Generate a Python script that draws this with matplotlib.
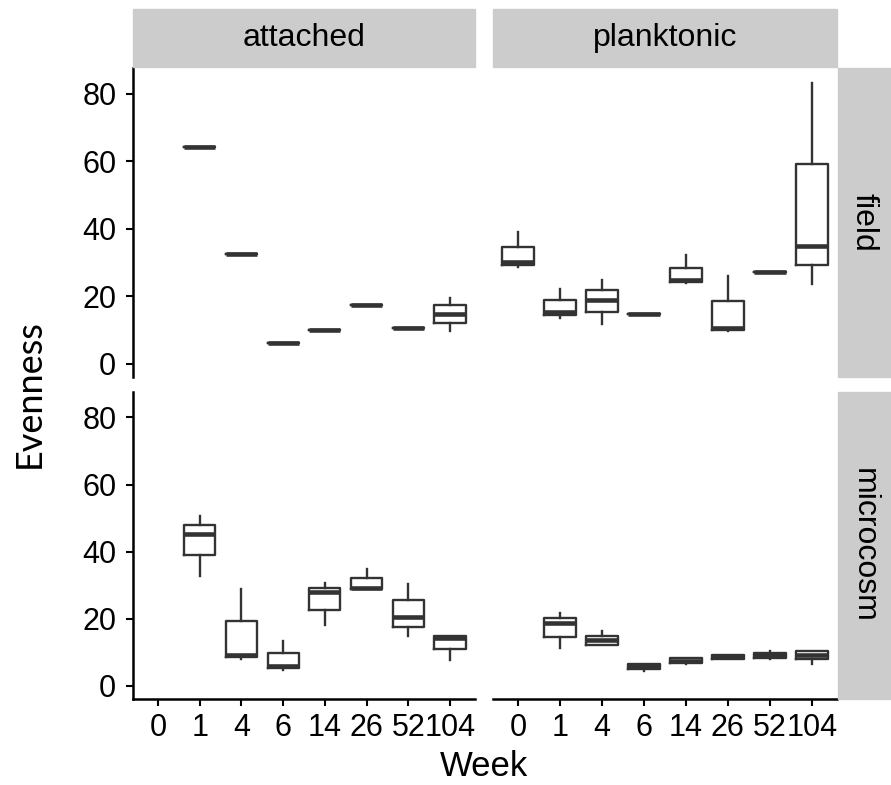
import matplotlib
matplotlib.use("Agg")
import matplotlib.pyplot as plt
from matplotlib.patches import Rectangle

W, H = 891, 785

weeks = ["0", "1", "4", "6", "14", "26", "52", "104"]
habitats = ["attached", "planktonic"]
systems = ["field", "microcosm"]

# (whisker low, q1, median, q3, whisker high) per week, None = no data
field_attached = [None,
                  (64.3, 64.3, 64.3, 64.3, 64.3),
                  (32.6, 32.6, 32.6, 32.6, 32.6),
                  (6.2, 6.2, 6.2, 6.2, 6.2),
                  (10.0, 10.0, 10.0, 10.0, 10.0),
                  (17.3, 17.3, 17.3, 17.3, 17.3),
                  (10.6, 10.6, 10.6, 10.6, 10.6),
                  (9.7, 12.1, 14.8, 17.3, 19.6)]
field_planktonic = [(28.7, 29.2, 30.2, 34.5, 39.0),
                    (13.6, 14.4, 15.2, 18.8, 22.2),
                    (11.7, 15.3, 19.0, 22.0, 24.8),
                    (14.8, 14.8, 14.8, 14.8, 14.8),
                    (24.0, 24.2, 24.7, 28.4, 32.2),
                    (9.7, 10.1, 10.6, 18.6, 26.1),
                    (27.1, 27.1, 27.1, 27.1, 27.1),
                    (23.6, 29.3, 34.9, 59.1, 83.3)]
micro_attached = [None,
                  (32.9, 38.9, 45.3, 47.9, 50.6),
                  (8.0, 8.5, 9.2, 19.2, 28.9),
                  (4.7, 5.2, 5.8, 9.8, 13.3),
                  (18.1, 22.5, 27.9, 29.1, 30.7),
                  (28.9, 28.9, 29.3, 32.1, 34.8),
                  (14.8, 17.5, 20.6, 25.6, 30.5),
                  (7.7, 11.0, 14.4, 14.8, 14.9)]
micro_planktonic = [None,
                    (11.2, 14.6, 18.7, 20.2, 21.6),
                    (12.2, 12.2, 13.6, 14.9, 16.4),
                    (4.4, 5.0, 5.8, 6.4, 6.4),
                    (6.4, 6.9, 7.5, 8.4, 8.4),
                    (8.0, 8.0, 8.7, 9.2, 9.2),
                    (8.0, 8.4, 9.2, 9.8, 10.3),
                    (6.5, 8.0, 9.2, 10.3, 10.3)]

panels = {("field", "attached"): field_attached,
          ("field", "planktonic"): field_planktonic,
          ("microcosm", "attached"): micro_attached,
          ("microcosm", "planktonic"): micro_planktonic}

col_x = [(133, 475), (493, 837)]
row_y = [(68, 377), (392, 699)]
line_col = "#333333"
strip_col = "#CCCCCC"
tick_font = "Liberation Sans"


def rect(x0, y0, x1, y1):
    return [x0 / W, 1 - y1 / H, (x1 - x0) / W, (y1 - y0) / H]


fig = plt.figure(figsize=(W / 100, H / 100), dpi=100)

for r, sysname in enumerate(systems):
    for c, hab in enumerate(habitats):
        x0, x1 = col_x[c]
        y0, y1 = row_y[r]
        ax = fig.add_axes(rect(x0, y0, x1, y1))
        data = panels[(sysname, hab)]
        stats, pos = [], []
        for i, d in enumerate(data):
            if d is None:
                continue
            lo, q1, med, q3, hi = d
            stats.append(dict(whislo=lo, q1=q1, med=med, q3=q3, whishi=hi, fliers=[]))
            pos.append(i)
        ax.bxp(stats, positions=pos, widths=0.75, showcaps=False, showfliers=False,
               boxprops=dict(color=line_col, lw=1.7),
               whiskerprops=dict(color=line_col, lw=1.7),
               medianprops=dict(color=line_col, lw=3.3, solid_capstyle="butt"))
        ax.set_xlim(-0.6, 7.6)
        ax.set_ylim(-3.9, 87.6)
        ax.set_xticks(range(len(weeks)))
        ax.set_xticklabels(weeks)
        ax.set_yticks([0, 20, 40, 60, 80])
        for s in ax.spines.values():
            s.set_visible(False)
        ax.tick_params(axis="both", length=5, width=1.5, color="black",
                       labelsize=22, pad=5)
        ax.tick_params(axis="y", pad=7)
        for lab in ax.get_xticklabels() + ax.get_yticklabels():
            lab.set_fontfamily(tick_font)
        if c == 0:
            ax.spines["left"].set_visible(True)
            ax.spines["left"].set_linewidth(1.8)
        else:
            ax.tick_params(axis="y", left=False, labelleft=False)
        if r == 1:
            ax.spines["bottom"].set_visible(True)
            ax.spines["bottom"].set_linewidth(1.8)
        else:
            ax.tick_params(axis="x", bottom=False, labelbottom=False)

# column strips
for c, hab in enumerate(habitats):
    x0, x1 = col_x[c]
    fig.patches.append(Rectangle((x0 / W, 1 - 67 / H), (x1 - x0) / W, 58 / H,
                                 transform=fig.transFigure, color=strip_col, zorder=0))
    fig.text((x0 + x1) / 2 / W, 1 - 38 / H, hab, ha="center", va="center",
             fontsize=23, family=tick_font)

# row strips
for r, sysname in enumerate(systems):
    y0, y1 = row_y[r]
    fig.patches.append(Rectangle((838 / W, 1 - y1 / H), 53 / W, (y1 - y0) / H,
                                 transform=fig.transFigure, color=strip_col, zorder=0))
    fig.text(864 / W, 1 - (y0 + y1) / 2 / H, sysname, ha="center", va="center",
             rotation=270, fontsize=23, family=tick_font)

fig.text(29 / W, 1 - 394 / H, "Evenness", rotation=90, ha="center", va="center",
         fontsize=26, family="Lato")
fig.text(484 / W, 1 - 767 / H, "Week", ha="center", va="center",
         fontsize=25, family=tick_font)

fig.savefig("out.png", dpi=100)
